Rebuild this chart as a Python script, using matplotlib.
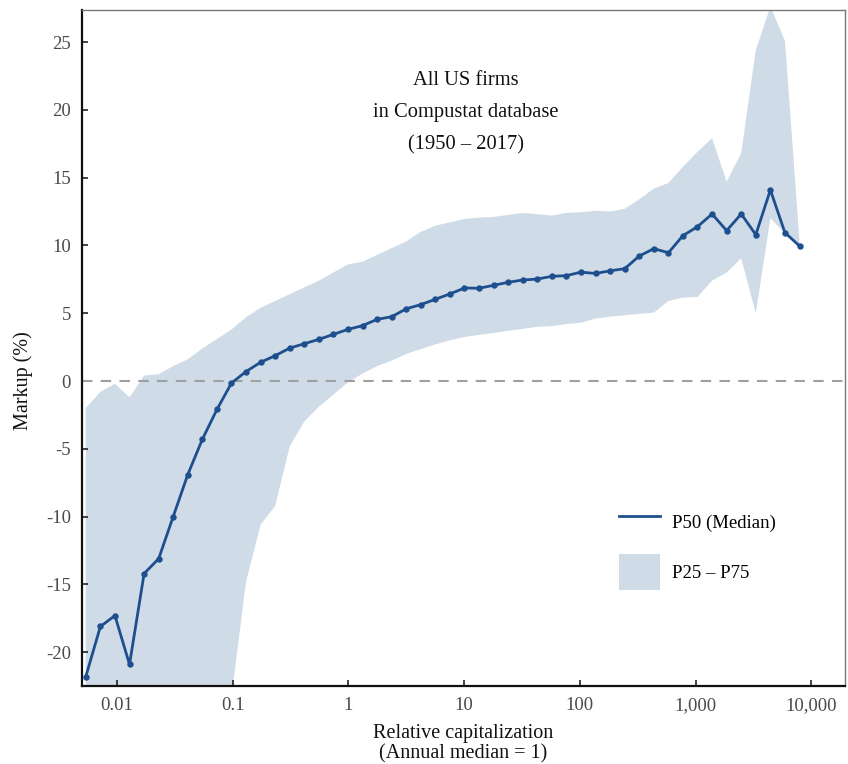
import matplotlib
matplotlib.use("Agg")
import matplotlib.pyplot as plt
from matplotlib.lines import Line2D
from matplotlib.patches import Patch
from matplotlib.ticker import FixedLocator, FixedFormatter

plt.rcParams['font.family'] = ['Liberation Serif', 'DejaVu Serif']

# Relative capitalization bin centres (annual median = 1)
rel_cap = [0.00537, 0.00718, 0.00959, 0.01282, 0.01714, 0.02291, 0.03058, 0.04087,
           0.05463, 0.07301, 0.09757, 0.1303, 0.1742, 0.2328, 0.3112, 0.4150,
           0.5546, 0.7413, 0.9908, 1.324, 1.770, 2.366, 3.162, 4.217, 5.636,
           7.534, 10.07, 13.46, 17.99, 24.04, 32.14, 42.95, 57.28, 76.56, 102.3,
           136.8, 182.8, 244.3, 326.6, 436.5, 583.4, 778.0, 1040, 1390, 1858,
           2483, 3319, 4436, 5929, 7925]

# Median markup (%)
p50 = [-21.8, -18.1, -17.3, -20.9, -14.2, -13.1, -10.0, -6.9, -4.3, -2.1,
       -0.15, 0.7, 1.38, 1.87, 2.43, 2.75, 3.07, 3.44, 3.81, 4.08,
       4.55, 4.74, 5.33, 5.63, 6.03, 6.42, 6.86, 6.84, 7.06, 7.28,
       7.45, 7.52, 7.72, 7.77, 8.03, 7.93, 8.13, 8.28, 9.22, 9.76,
       9.46, 10.72, 11.38, 12.32, 11.09, 12.32, 10.79, 14.09, 10.94, 9.96]

# 25th percentile
p25 = [-45, -45, -45, -45, -45, -45, -45, -45, -45, -40,
       -23.3, -14.8, -10.6, -9.2, -4.8, -3.0, -1.9, -1.0, -0.1, 0.55,
       1.1, 1.5, 2.0, 2.35, 2.7, 3.0, 3.25, 3.4, 3.55, 3.7,
       3.85, 4.0, 4.05, 4.2, 4.3, 4.6, 4.75, 4.85, 4.95, 5.05,
       5.9, 6.15, 6.2, 7.4, 8.0, 9.05, 5.0, 12.0, 10.9, 9.8]

# 75th percentile
p75 = [-2.0, -0.8, -0.2, -1.2, 0.4, 0.5, 1.1, 1.6, 2.4, 3.1,
       3.8, 4.7, 5.4, 5.9, 6.4, 6.9, 7.4, 8.0, 8.6, 8.8,
       9.3, 9.8, 10.3, 11.0, 11.45, 11.7, 11.95, 12.05, 12.1, 12.25,
       12.4, 12.3, 12.2, 12.4, 12.45, 12.55, 12.5, 12.7, 13.4, 14.2,
       14.6, 15.8, 16.9, 17.9, 14.7, 16.8, 24.4, 27.6, 25.1, 10.3]

x_ticks = [0.01, 0.1, 1, 10, 100, 1000, 10000]
x_tick_labels = ["0.01", "0.1", "1", "10", "100", "1,000", "10,000"]
y_ticks = [-20, -15, -10, -5, 0, 5, 10, 15, 20, 25]
y_tick_labels = ["-20", "-15", "-10", "-5", "0", "5", "10", "15", "20", "25"]

line_color = "#1d4f8f"
band_color = "#cfdbe7"

fig = plt.figure(figsize=(8.48, 7.64), dpi=100)
ax = fig.add_axes([82 / 848, 1 - 686 / 764, (845 - 82) / 848, (686 - 10) / 764])

ax.fill_between(rel_cap, p25, p75, color=band_color, linewidth=0, zorder=1)
ax.axhline(0, color="#a0a0a0", linestyle=(0, (5, 4)), linewidth=1.5, zorder=2)
ax.plot(rel_cap, p50, color=line_color, linewidth=2.0, marker="o",
        markersize=3.6, zorder=3)

ax.set_xscale("log")
ax.set_xlim(0.00498, 19590)
ax.set_ylim(-22.49, 27.36)

ax.xaxis.set_major_locator(FixedLocator(x_ticks))
ax.xaxis.set_major_formatter(FixedFormatter(x_tick_labels))
ax.xaxis.set_minor_locator(FixedLocator([]))
ax.yaxis.set_major_locator(FixedLocator(y_ticks))
ax.yaxis.set_major_formatter(FixedFormatter(y_tick_labels))

ax.tick_params(axis="both", direction="in", length=4, width=1.2,
               labelsize=13.5, labelcolor="#4a4a4a", color="#222222")
ax.tick_params(axis="x", pad=8)
ax.tick_params(axis="y", pad=8)

for side in ["left", "bottom"]:
    ax.spines[side].set_linewidth(1.6)
    ax.spines[side].set_color("#111111")
for side in ["top", "right"]:
    ax.spines[side].set_linewidth(1.0)
    ax.spines[side].set_color("#777777")

ax.set_ylabel("Markup (%)", fontsize=14.5, color="#111111")
ax.yaxis.set_label_coords(-0.064, (686 - 381) / 676)
ax.set_xlabel("Relative capitalization\n(Annual median = 1)", fontsize=14.5,
              color="#111111", labelpad=7, linespacing=1.1)

ax.text(0.503, 0.91, "All US firms\nin Compustat database\n(1950 \u2013 2017)",
        transform=ax.transAxes, ha="center", va="top", fontsize=14.8,
        color="#111111", linespacing=1.95)

handles = [Line2D([0], [0], color=line_color, linewidth=2.0),
           Patch(facecolor=band_color, edgecolor="none")]
leg = ax.legend(handles, ["P50 (Median)", "P25 \u2013 P75"],
                loc="lower left", bbox_to_anchor=(0.682, 0.117), frameon=False,
                fontsize=13.5, handlelength=2.2, handleheight=2.6,
                labelspacing=0.7, handletextpad=0.6)

fig.savefig("out.png", dpi=100)
